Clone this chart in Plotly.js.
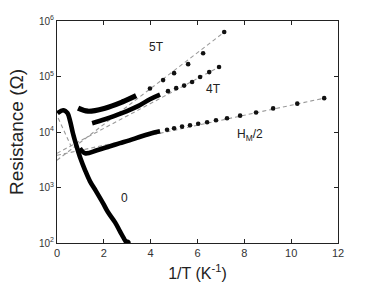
<!DOCTYPE html>
<html>
<head>
<meta charset="utf-8">
<script src="https://cdn.plot.ly/plotly-3.0.1.min.js"></script>
<style>html,body{margin:0;padding:0;background:#fff;}#chart{width:374px;height:285px;}</style>
</head>
<body>
<div id="chart"></div>
<script>
// ---- data (1/T in K^-1, resistance in ohm) ----
var zeroX = [0.02, 0.26, 0.45, 0.56, 0.68, 0.85, 1.0, 1.2, 1.41, 1.67, 1.97, 2.18, 2.48, 2.69, 2.91, 3.0];
var zeroR = [21800, 24700, 21800, 15700, 9500, 5320, 3370, 2040, 1290, 852, 518, 357, 235, 162, 111, 100];

var t5DenseX = [0.90, 1.32, 2.05, 2.78, 3.38];
var t5DenseR = [26900, 23700, 26900, 34700, 45200];
var t5X = [3.97, 4.53, 5.0, 5.6, 6.24, 7.14];
var t5R = [60700, 86100, 115000, 167000, 263000, 633000];

var t4DenseX = [1.50, 2.05, 2.74, 3.46, 3.97, 4.40];
var t4DenseR = [14400, 17000, 21600, 29200, 38900, 47100];
var t4X = [4.74, 5.09, 5.43, 5.77, 6.11, 6.50, 6.92];
var t4R = [54500, 61700, 68600, 79400, 97700, 120000, 148000];

var hmDenseX = [0.98, 1.20, 1.71, 2.26, 2.69, 3.25, 3.55, 3.97, 4.40];
var hmDenseR = [5100, 4140, 4690, 5550, 6290, 7420, 8230, 9330, 10300];
var hmX = [4.70, 5.0, 5.34, 5.68, 6.03, 6.41, 6.79, 7.26, 7.82, 8.50, 9.23, 10.26, 11.41];
var hmR = [11000, 11700, 12500, 13200, 14100, 15000, 16300, 17700, 19700, 22500, 26600, 32400, 40700];

// fitted (dashed) lines: end points
var fit5X = [0, 7.15],  fit5R = [3100, 633000];
var fit4X = [0, 6.92],  fit4R = [4140, 148000];
var fitHX = [0, 11.41], fitHR = [3800, 40700];
var fit0X = [0.05, 0.6], fit0R = [17800, 5550];

var yTickVals = [100, 1000, 10000, 100000, 1000000];
var yTickText = ['10<sup>2</sup>', '10<sup>3</sup>', '10<sup>4</sup>', '10<sup>5</sup>', '10<sup>6</sup>'];
var xTickVals = [0, 2, 4, 6, 8, 10, 12];

var labels = [
  {x: 4.27, r: 340000, t: '5T'},
  {x: 6.67, r: 59000, t: '4T'},
  {x: 8.25, r: 8700, t: 'H<sub>M</sub>/2'},
  {x: 2.9, r: 640, t: '0'}
];

// ---- drawing ----
var dashStyle = {color: '#9a9a9a', width: 1.1, dash: '4px,3px'};
function dense(x, y, w) {
  return {x: x, y: y, mode: 'lines', line: {color: '#000', width: w, shape: 'spline'}, hoverinfo: 'skip'};
}
function dots(x, y) {
  return {x: x, y: y, mode: 'markers', marker: {color: '#111', size: 4.6}, hoverinfo: 'skip'};
}
function fit(x, y) {
  return {x: x, y: y, mode: 'lines', line: dashStyle, hoverinfo: 'skip'};
}

var traces = [
  fit(fit5X, fit5R), fit(fit4X, fit4R), fit(fitHX, fitHR), fit(fit0X, fit0R),
  dense(zeroX, zeroR, 4.6),
  {x: [zeroX[zeroX.length-1]], y: [zeroR[zeroR.length-1]], mode: 'markers', marker: {color: '#000', size: 7}},
  dense(t5DenseX, t5DenseR, 5.2), dots(t5X, t5R),
  dense(t4DenseX, t4DenseR, 4.6), dots(t4X, t4R),
  dense(hmDenseX, hmDenseR, 4.6), dots(hmX, hmR)
];

var axisCommon = {
  showgrid: false, zeroline: false, showline: true, linecolor: '#222', linewidth: 1,
  mirror: 'ticks', ticks: 'inside', ticklen: 4, tickcolor: '#222',
  tickfont: {family: 'Liberation Sans, Arial, sans-serif', size: 11, color: '#333'}
};

var layout = {
  width: 374, height: 285,
  margin: {l: 57, r: 36, t: 21, b: 42},
  paper_bgcolor: '#fff', plot_bgcolor: '#fff',
  showlegend: false,
  font: {family: 'Liberation Sans, Arial, sans-serif', color: '#222'},
  xaxis: Object.assign({}, axisCommon, {
    range: [0, 12], tickvals: xTickVals,
    title: {text: '1/T (K<sup>-1</sup>)', font: {size: 16, color: '#222'}, standoff: 9}
  }),
  yaxis: Object.assign({}, axisCommon, {
    type: 'log', range: [2, 6], tickvals: yTickVals, ticktext: yTickText,
    tickfont: {family: 'Liberation Sans, Arial, sans-serif', size: 10, color: '#333'},
    title: {text: 'Resistance (Ω)', font: {size: 19, color: '#222'}, standoff: 10}
  }),
  annotations: labels.map(function (l) {
    return {x: l.x, y: Math.log10(l.r), xref: 'x', yref: 'y', text: l.t, showarrow: false,
            font: {size: 12, color: '#222'}};
  })
};

Plotly.newPlot('chart', traces, layout, {staticPlot: true, displayModeBar: false});
</script>
</body>
</html>
